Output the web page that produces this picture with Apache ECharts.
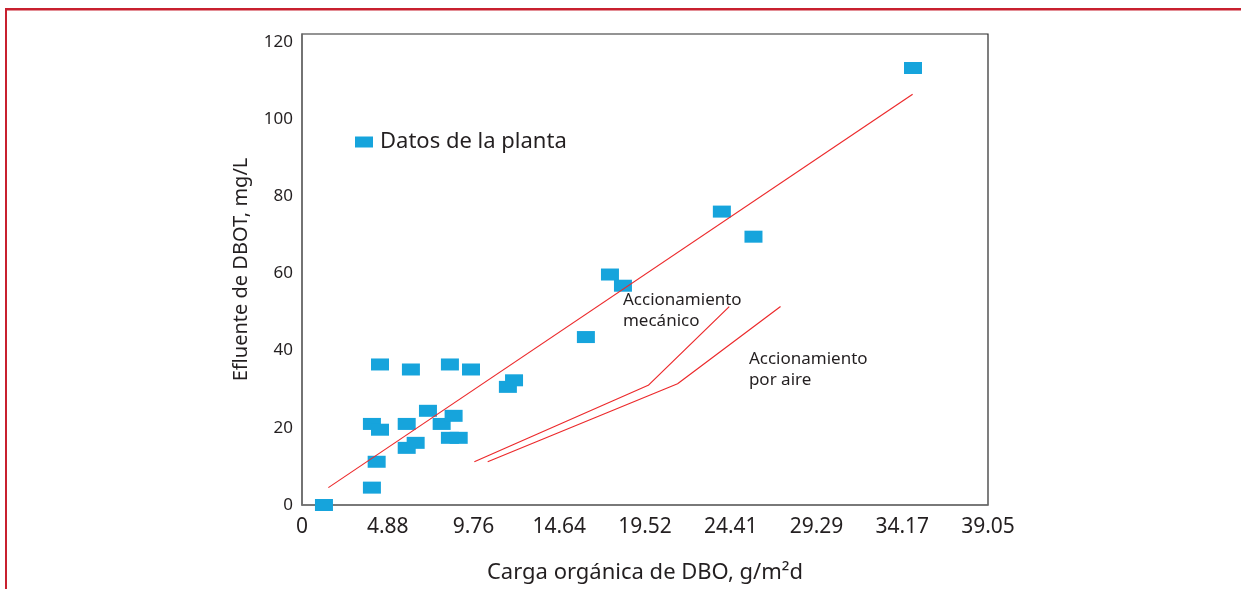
<!DOCTYPE html>
<html>
<head>
<meta charset="utf-8">
<script src="https://cdn.jsdelivr.net/npm/echarts@6/dist/echarts.min.js"></script>
<style>
  html, body { margin: 0; padding: 0; background: #ffffff; }
  #chart { width: 1241px; height: 589px; }
</style>
</head>
<body>
<div id="chart"></div>
<script>
// Carga orgánica de DBO (g/m²d) frente a DBOT del efluente (mg/L)
const plantLoad = [1.25, 3.98, 3.98, 4.44, 4.25, 5.96, 5.96, 6.47, 7.17, 7.95, 8.63, 8.42, 8.92,
  4.44, 6.20, 8.42, 9.62, 11.72, 12.07, 16.16, 17.53, 18.27, 23.9, 25.7, 34.78];
const plantEffluent = [0, 4.5, 21.0, 19.5, 11.2, 21.0, 14.8, 16.1, 24.4, 21.0, 23.1, 17.4, 17.4,
  36.4, 35.1, 36.4, 35.1, 30.6, 32.3, 43.5, 59.7, 56.8, 76.0, 69.5, 113.2];

// Recta de ajuste de los datos de la planta
const fitLoad = [1.50, 34.76];
const fitEffluent = [4.5, 106.4];

// Curvas de diseño
const mechLoad = [9.81, 19.71, 24.32];
const mechEffluent = [11.2, 31.0, 51.4];
const airLoad = [10.57, 21.38, 27.24];
const airEffluent = [11.2, 31.4, 51.4];

// Etiquetas de las marcas del eje x
const xTickLabels = ['0', '4.88', '9.76', '14.64', '19.52', '24.41', '29.29', '34.17', '39.05'];
const xMax = 39.05;
const xStep = xMax / (xTickLabels.length - 1);

// Rótulos de las curvas (esquina superior izquierda, en unidades de los ejes)
const curveNotes = [
  { text: 'Accionamiento\nmecánico', at: [18.27, 55.7] },
  { text: 'Accionamiento\npor aire', at: [25.44, 40.6] }
];

const zip = (a, b) => a.map((v, i) => [v, b[i]]);

const FONT = 'Noto Sans';
const TEXT = '#231f20';
const BLUE = '#16a4dc';
const RED = '#ec2a2c';

const chart = echarts.init(document.getElementById('chart'), null, { renderer: 'canvas' });

const lineStyle = { color: RED, width: 1.2 };

chart.setOption({
  animation: false,
  backgroundColor: '#ffffff',
  textStyle: { fontFamily: FONT, color: TEXT },
  grid: {
    left: 302, right: 253, top: 34, bottom: 84,
    containLabel: false, outerBoundsMode: 'none',
    show: true, borderColor: '#2a2a2a', borderWidth: 1.2, backgroundColor: 'transparent'
  },
  legend: {
    data: [{ name: 'Datos de la planta', icon: 'rect' }],
    left: 350, top: 126,
    itemWidth: 18, itemHeight: 11, itemGap: 0,
    textStyle: { fontFamily: FONT, fontSize: 22, color: TEXT, padding: [4, 0, 0, 2] },
    selectedMode: false
  },
  xAxis: {
    type: 'value', min: 0, max: xMax, interval: xStep,
    name: 'Carga orgánica de DBO, g/m²d',
    nameLocation: 'middle', nameGap: 57,
    nameTextStyle: { fontFamily: FONT, fontSize: 22, color: TEXT },
    axisLine: { show: true, onZero: false, lineStyle: { color: '#707070', width: 1.5 } },
    axisTick: { show: false },
    splitLine: { show: false },
    axisLabel: {
      fontFamily: FONT, fontSize: 21, color: TEXT, margin: 12,
      formatter: v => xTickLabels[Math.round(v / xStep)]
    }
  },
  yAxis: {
    type: 'value', min: 0, max: 122, interval: 20,
    name: 'Efluente de DBOT, mg/L',
    nameLocation: 'middle', nameGap: 51,
    nameTextStyle: { fontFamily: FONT, fontSize: 20, color: TEXT },
    axisLine: { show: true, onZero: false, lineStyle: { color: '#707070', width: 1.5 } },
    axisTick: { show: false },
    splitLine: { show: false },
    axisLabel: { fontFamily: FONT, fontSize: 17, color: TEXT, margin: 9, showMaxLabel: false }
  },
  series: [
    {
      name: 'Recta', type: 'line', data: zip(fitLoad, fitEffluent),
      symbol: 'none', lineStyle, silent: true, z: 3
    },
    {
      name: 'Accionamiento mecánico', type: 'line', data: zip(mechLoad, mechEffluent),
      symbol: 'none', lineStyle, silent: true, z: 3
    },
    {
      name: 'Accionamiento por aire', type: 'line', data: zip(airLoad, airEffluent),
      symbol: 'none', lineStyle, silent: true, z: 3
    },
    {
      name: 'Datos de la planta', type: 'scatter', data: zip(plantLoad, plantEffluent),
      symbol: 'rect', symbolSize: [18, 12],
      itemStyle: { color: BLUE, opacity: 1 }, z: 2
    }
  ]
});

// Marco rojo de la figura y rótulos de las curvas
function drawExtras() {
  const notes = curveNotes.map(n => {
    const p = chart.convertToPixel({ gridIndex: 0 }, n.at);
    return {
      type: 'text', x: p[0], y: p[1], silent: true,
      style: { text: n.text, fill: TEXT, font: '17px "' + FONT + '"', lineHeight: 21, textVerticalAlign: 'top' }
    };
  });
  chart.setOption({
    graphic: [
      { type: 'rect', shape: { x: 5, y: 8, width: 1236, height: 2.5 }, style: { fill: '#c8202f' }, silent: true },
      { type: 'rect', shape: { x: 5, y: 8, width: 2, height: 581 }, style: { fill: '#c8202f' }, silent: true }
    ].concat(notes)
  });
}
drawExtras();
</script>
</body>
</html>
